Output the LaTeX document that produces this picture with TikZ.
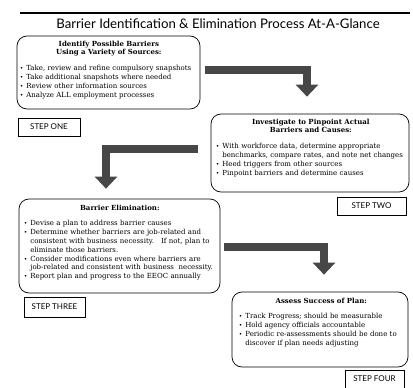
\documentclass[tikz,border=0pt]{standalone}
\usepackage{fontspec}
\setmainfont{DejaVu Serif}
\newfontfamily\gillfont{Lato}
\usetikzlibrary{arrows.meta}

\newenvironment{dotlist}{\begin{list}{\fontsize{6}{6}\selectfont\textbullet}{%
  \setlength\leftmargin{6.5pt}\setlength\labelwidth{6.5pt}\setlength\labelsep{0pt}%
  \setlength\itemsep{0pt}\setlength\parsep{0pt}\setlength\topsep{0pt}%
  \setlength\partopsep{0pt}\setlength\itemindent{0pt}\def\makelabel##1{##1\hfil}}\raggedright}{\end{list}}

\begin{document}
\begin{tikzpicture}[x=1pt,y=-1pt,
  every node/.append style={inner sep=0pt},
  panel/.style={draw,rounded corners=10pt,line width=0.7pt},
  paneltext/.style={anchor=north west,font=\fontsize{7}{8.8}\selectfont},
  stepbox/.style={draw,line width=0.6pt,font=\gillfont\fontsize{8}{9}\selectfont},
  bigarrow/.style={line width=8pt,black!72,-{Triangle[width=22pt,length=12pt]},line join=miter}]
  \useasboundingbox (0,0) rectangle (413,388);
  % heading
  \draw[line width=1.2pt] (20,13) -- (410,13);
  \node (title) at (218,24) {\gillfont\fontsize{13.2}{15}\selectfont Barrier Identification \& Elimination Process At-A-Glance};
  % panels
  \node (box_1) [panel,minimum width=183pt,minimum height=73pt] at (108.5,72.5) {};
  \node (box_2) [panel,minimum width=198pt,minimum height=78pt] at (310,153) {};
  \node (box_3) [panel,minimum width=201pt,minimum height=94pt] at (119.5,246) {};
  \node (box_4) [panel,minimum width=176pt,minimum height=75pt] at (320,329.5) {};
  \node (text_1) [paneltext,text width=178pt] at ([xshift=3pt,yshift=-5pt]box_1.north west) {%
    \centering\textbf{Identify Possible Barriers}\\\textbf{Using a Variety of Sources:}\par
    \vspace{7pt}
    \begin{dotlist}
    \item Take, review and refine compulsory snapshots
    \item Take additional snapshots where needed
    \item Review other information sources
    \item Analyze ALL employment processes
    \end{dotlist}};
  \node (text_2) [paneltext,text width=190pt] at ([xshift=5pt,yshift=-5pt]box_2.north west) {%
    \centering\textbf{Investigate to Pinpoint Actual}\\\textbf{Barriers and Causes:}\par
    \vspace{7pt}
    \begin{dotlist}
    \item With workforce data, determine appropriate\\benchmarks, compare rates, and note net changes
    \item Heed triggers from other sources
    \item Pinpoint barriers and determine causes
    \end{dotlist}};
  \node (text_3) [paneltext,text width=192pt] at ([xshift=5pt,yshift=-6pt]box_3.north west) {%
    \centering\textbf{Barrier Elimination:}\par
    \vspace{7pt}
    \begin{dotlist}
    \item Devise a plan to address barrier causes
    \item Determine whether barriers are job-related and\\consistent with business necessity.\ \ \ If not, plan to\\eliminate those barriers.
    \item Consider modifications even where barriers are\\job-related and consistent with business\ \ necessity.
    \item Report plan and progress to the EEOC annually
    \end{dotlist}};
  \node (text_4) [paneltext,text width=165pt] at ([xshift=7pt,yshift=-6pt]box_4.north west) {%
    \centering\textbf{Assess Success of Plan:}\par
    \vspace{7pt}
    \begin{dotlist}
    \item Track Progress; should be measurable
    \item Hold agency officials accountable
    \item Periodic re-assessments should be done to\\discover if plan needs adjusting
    \end{dotlist}};
  % step labels
  \node (step_1) [stepbox,minimum width=62pt,minimum height=18pt] at (49,127) {STEP ONE};
  \node (step_2) [stepbox,minimum width=69pt,minimum height=18pt] at (371.5,206) {STEP TWO};
  \node (step_3) [stepbox,minimum width=61pt,minimum height=20pt] at (54.5,307) {STEP THREE};
  \node (step_4) [stepbox,minimum width=59pt,minimum height=18pt] at (374.5,379) {STEP FOUR};
  % bent arrows
  \draw[bigarrow] ([xshift=5pt,yshift=2.5pt]box_1.east) -| ([xshift=-3pt,yshift=17pt]box_2.north);
  \draw[bigarrow] ([xshift=-13pt,yshift=4pt]box_2.west) -| ([xshift=-13.5pt,yshift=10pt]box_3.north);
  \draw[bigarrow] ([xshift=4pt,yshift=-1pt]box_3.east) -| ([xshift=4pt,yshift=17pt]box_4.north);
\end{tikzpicture}
\end{document}
